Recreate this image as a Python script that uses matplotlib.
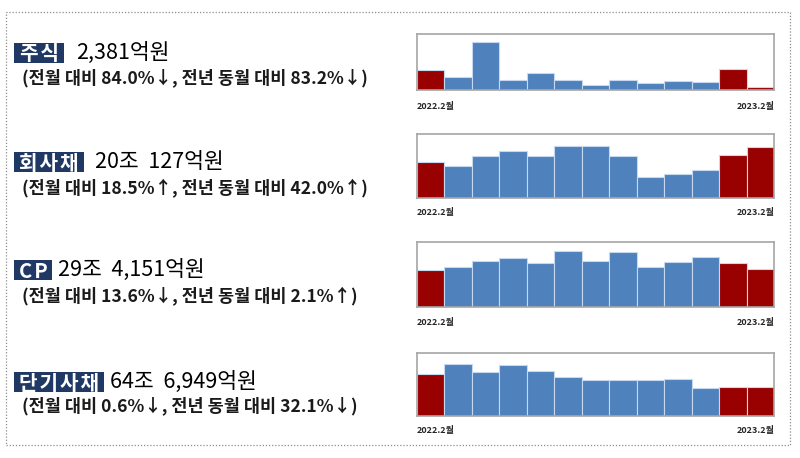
import matplotlib
matplotlib.use("Agg")
import matplotlib.pyplot as plt
from matplotlib.patches import Rectangle

plt.rcParams['font.family'] = ['Noto Sans CJK KR', 'DejaVu Sans']

months = ['2022.2', '2022.3', '2022.4', '2022.5', '2022.6', '2022.7', '2022.8',
          '2022.9', '2022.10', '2022.11', '2022.12', '2023.1', '2023.2']

names = ['주식', '회사채', 'CP', '단기사채']
amounts = ['2,381억원', '20조  127억원', '29조  4,151억원', '64조  6,949억원']
changes = ['(전월 대비 84.0%↓, 전년 동월 대비 83.2%↓)',
           '(전월 대비 18.5%↑, 전년 동월 대비 42.0%↑)',
           '(전월 대비 13.6%↓, 전년 동월 대비 2.1%↑)',
           '(전월 대비 0.6%↓, 전년 동월 대비 32.1%↓)']

# monthly issuance (억원)
stock = [14173, 9100, 35000, 7200, 12500, 7000, 3600, 7200, 4800, 6200, 5800, 14881, 2381]
corp_bond = [140934, 127700, 164600, 185600, 167200, 206700, 204000, 164600, 81600, 94800, 110600, 168883, 200127]
cp = [288101, 309900, 362400, 380800, 344000, 438600, 362400, 430700, 309900, 349300, 388700, 340453, 294151]
short_bond = [952796, 1177000, 997000, 1147000, 1020000, 885000, 817000, 802000, 810000, 832000, 630000, 650854, 646949]

series = [stock, corp_bond, cp, short_bond]
ymax = [40500, 252800, 506900, 1420000]

W, H = 800, 458
fig = plt.figure(figsize=(W / 100, H / 100), dpi=100)

def fx(x):
    return x / W

def fy(y):
    return 1 - y / H

# dotted outer frame
fig.patches.append(Rectangle((fx(6), fy(445)), fx(790) - fx(6), fy(12) - fy(445),
                             transform=fig.transFigure, fill=False,
                             ec='#8C8C8C', lw=0.9, ls=(0, (1, 1.5))))

# chart panel pixel boxes: (top, bottom)
panels = [(34, 90), (134, 198), (242, 307), (353, 416)]
label_y = [106, 212, 322, 430]
title_y = [53, 162, 270, 382]
box_right = [64, 84, 52, 104]
sub_y = [78, 188, 296, 406]
amount_x = [76, 95, 58, 110]

red = '#990000'
blue = '#4F81BD'
navy = '#1F3864'

for i in range(4):
    top, bot = panels[i]
    ax = fig.add_axes([fx(417), fy(bot), fx(774) - fx(417), fy(top) - fy(bot)])
    colors = [red] + [blue] * (len(months) - 3) + [red, red]
    ax.bar(range(len(months)), series[i], width=1.0, color=colors,
           edgecolor='#C6D9F1', linewidth=0.8)
    ax.set_xlim(-0.5, len(months) - 0.5)
    ax.set_ylim(0, ymax[i])
    ax.set_xticks([])
    ax.set_yticks([])
    for s in ax.spines.values():
        s.set_color('#A6A6A6')
        s.set_linewidth(1.2)
    fig.text(fx(417), fy(label_y[i]), months[0] + '월', fontsize=6.5, fontweight='bold',
             ha='left', va='center', color='#262626')
    fig.text(fx(775), fy(label_y[i]), months[-1] + '월', fontsize=6.5, fontweight='bold',
             ha='right', va='center', color='#262626')

    # title box
    fig.patches.append(Rectangle((fx(14), fy(title_y[i] + 10)), fx(box_right[i]) - fx(14),
                                 fy(title_y[i] - 10) - fy(title_y[i] + 10),
                                 transform=fig.transFigure, fc=navy, ec='none'))
    fig.text(fx((14 + box_right[i]) / 2), fy(title_y[i] + 1), '\u200a'.join(names[i]),
             fontsize=14.5, fontweight='bold', color='white', ha='center', va='center')
    fig.text(fx(amount_x[i]), fy(title_y[i]), amounts[i], fontsize=15.5,
             fontweight='medium', color='black', ha='left', va='center')
    fig.text(fx(22), fy(sub_y[i]), changes[i], fontsize=12.6, fontweight='bold',
             color='#1a1a1a', ha='left', va='center')

fig.savefig('out.png', dpi=100, facecolor='white')
